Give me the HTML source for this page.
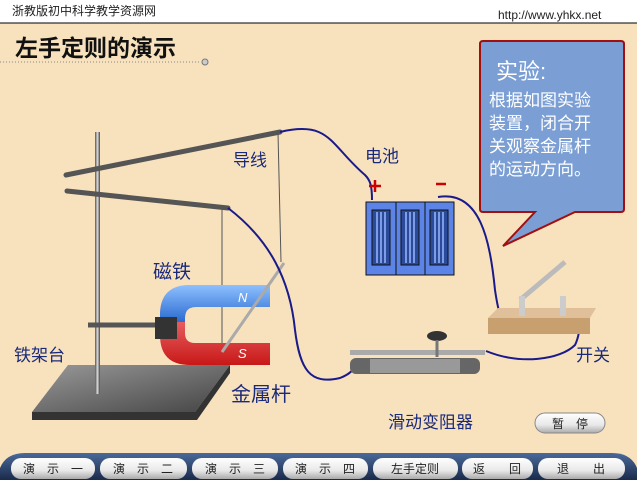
<!DOCTYPE html>
<html><head><meta charset="utf-8"><style>
body{margin:0;width:637px;height:480px;overflow:hidden;background:#F8E2BE;}
svg{display:block}
text{font-family:"Liberation Sans","Noto Sans CJK SC",sans-serif}
</style></head><body>
<svg width="637" height="480" viewBox="0 0 637 480">
<defs>
<linearGradient id="rod" x1="0" y1="0" x2="1" y2="0"><stop offset="0" stop-color="#555"/><stop offset=".5" stop-color="#ddd"/><stop offset="1" stop-color="#444"/></linearGradient>
<linearGradient id="base" x1="0" y1="0" x2="1" y2="1"><stop offset="0" stop-color="#999"/><stop offset="1" stop-color="#444"/></linearGradient>
<linearGradient id="btn" x1="0" y1="0" x2="0" y2="1"><stop offset="0" stop-color="#fff"/><stop offset=".6" stop-color="#e8e8e8"/><stop offset="1" stop-color="#aaa"/></linearGradient>
<linearGradient id="bar" x1="0" y1="0" x2="0" y2="1"><stop offset="0" stop-color="#4a6a9a"/><stop offset="1" stop-color="#1a2a4a"/></linearGradient>
<linearGradient id="blu" x1="0" y1="0" x2="0" y2="1"><stop offset="0" stop-color="#8ec0ff"/><stop offset="1" stop-color="#2a6ad0"/></linearGradient>
<linearGradient id="red" x1="0" y1="0" x2="0" y2="1"><stop offset="0" stop-color="#ff9a9a"/><stop offset="1" stop-color="#c81818"/></linearGradient>
</defs>
<rect x="0" y="0" width="637" height="23" fill="#fff"/>
<line x1="0" y1="23" x2="637" y2="23" stroke="#000" stroke-width="1"/>
<text x="12" y="15" font-size="12" fill="#222">浙教版初中科学教学资源网</text>
<text x="498" y="19" font-size="12" fill="#222">http://www.yhkx.net</text>
<text x="15" y="56" font-size="23" fill="#111" font-weight="bold">左手定则的演示</text>
<line x1="0" y1="62" x2="200" y2="62" stroke="#888" stroke-dasharray="1,2"/>
<circle cx="205" cy="62" r="3" fill="#ccc" stroke="#777"/>

<path d="M483,41 H621 Q624,41 624,44 V209 Q624,212 621,212 H575 L503,246 L535,212 H483 Q480,212 480,209 V44 Q480,41 483,41 Z" fill="#7B9FD4" stroke="#A01010" stroke-width="2"/>
<text x="496" y="79" font-size="22" fill="#fff">实验:</text>
<g font-size="17" fill="#fff"><text x="489" y="106">根据如图实验</text><text x="489" y="129">装置，闭合开</text><text x="489" y="152">关观察金属杆</text><text x="489" y="175">的运动方向。</text></g>

<polygon points="68,365 230,365 195,412 32,412" fill="url(#base)"/>
<polygon points="32,412 195,412 230,365 230,373 197,420 32,420" fill="#333"/>
<rect x="95" y="132" width="5" height="262" fill="url(#rod)"/>
<line x1="66" y1="175" x2="280" y2="132" stroke="#555" stroke-width="5" stroke-linecap="round"/>
<line x1="67" y1="191" x2="228" y2="208" stroke="#555" stroke-width="5" stroke-linecap="round"/>
<line x1="88" y1="325" x2="155" y2="325" stroke="#555" stroke-width="5"/>
<line x1="278" y1="133" x2="281" y2="262" stroke="#555" stroke-width="1"/>
<line x1="222" y1="209" x2="222" y2="352" stroke="#555" stroke-width="1"/>
<path d="M270,285 H190 Q160,285 160,315 V335 Q160,365 190,365 H270 V343 H195 Q185,343 185,333 V318 Q185,307 196,307 H270 Z" fill="url(#red)"/>
<path d="M270,285 H190 Q160,285 160,315 V322 H185 V318 Q185,307 196,307 H270 Z" fill="url(#blu)"/>
<rect x="155" y="317" width="22" height="22" fill="#333"/>
<text x="238" y="302" font-size="13" font-style="italic" fill="#fff" font-family="Liberation Serif">N</text>
<text x="238" y="358" font-size="13" font-style="italic" fill="#fff" font-family="Liberation Serif">S</text>
<line x1="284" y1="263" x2="222" y2="352" stroke="#aaa" stroke-width="3"/>
<path d="M280,132 C330,120 330,145 365,175 C370,180 372,185 372,200" fill="none" stroke="#1a1a8a" stroke-width="2"/>
<path d="M228,208 C270,240 290,280 295,330 C300,370 310,385 340,378 C350,374 355,370 356,360" fill="none" stroke="#1a1a8a" stroke-width="2"/>
<path d="M438,197 C480,190 490,240 495,290 C498,310 500,318 505,318" fill="none" stroke="#1a1a8a" stroke-width="2"/>
<path d="M486,351 C520,365 560,360 575,345 C580,335 580,322 580,318" fill="none" stroke="#1a1a8a" stroke-width="2"/>
<rect x="366" y="202" width="88" height="73" fill="#5b84e6" stroke="#111"/>
<line x1="396" y1="202" x2="396" y2="275" stroke="#111"/><line x1="425" y1="202" x2="425" y2="275" stroke="#111"/>
<g fill="#2a4a9a" stroke="#111"><rect x="372" y="210" width="18" height="55"/><rect x="401" y="210" width="18" height="55"/><rect x="430" y="210" width="18" height="55"/></g>
<g stroke="#9ab8ff" stroke-width="1.5"><line x1="377" y1="212" x2="377" y2="263"/><line x1="381" y1="212" x2="381" y2="263"/><line x1="385" y1="212" x2="385" y2="263"/><line x1="406" y1="212" x2="406" y2="263"/><line x1="410" y1="212" x2="410" y2="263"/><line x1="414" y1="212" x2="414" y2="263"/><line x1="435" y1="212" x2="435" y2="263"/><line x1="439" y1="212" x2="439" y2="263"/><line x1="443" y1="212" x2="443" y2="263"/></g>
<g stroke="#c00" stroke-width="2.5"><line x1="369" y1="186" x2="381" y2="186"/><line x1="375" y1="180" x2="375" y2="192"/><line x1="436" y1="184" x2="446" y2="184"/></g>
<polygon points="488,318 590,318 596,308 498,308" fill="#e0c09a"/>
<rect x="488" y="318" width="102" height="16" fill="#c8a070"/>
<line x1="520" y1="300" x2="565" y2="262" stroke="#bbb" stroke-width="5"/>
<rect x="519" y="296" width="6" height="20" fill="#ccc"/><rect x="560" y="296" width="6" height="20" fill="#ccc"/>
<rect x="350" y="350" width="135" height="5" fill="#aaa"/>
<rect x="350" y="358" width="130" height="16" rx="6" fill="#666"/>
<rect x="370" y="359" width="90" height="14" fill="#999"/>
<ellipse cx="437" cy="336" rx="10" ry="5" fill="#333"/>
<line x1="437" y1="340" x2="437" y2="357" stroke="#777" stroke-width="3"/>
<g fill="#1a2a7a" font-size="17">
<text x="233" y="166">导线</text>
<text x="365" y="162">电池</text>
<text x="153" y="278" font-size="19">磁铁</text>
<text x="14" y="361">铁架台</text>
<text x="231" y="401" font-size="20">金属杆</text>
<text x="388" y="428">滑动变阻器</text>
<text x="576" y="361">开关</text>
</g>
<rect x="535" y="413" width="70" height="20" rx="10" fill="url(#btn)" stroke="#888"/>
<text x="570" y="428" font-size="12" text-anchor="middle" fill="#222">暂　停</text>
<path d="M0,480 V468 Q6,453 25,453 H612 Q631,453 637,468 V480 Z" fill="url(#bar)"/>
<g font-size="12" fill="#222" text-anchor="middle">
<rect x="11" y="458" width="84" height="21" rx="10" fill="url(#btn)"/><text x="53" y="473">演　示　一</text>
<rect x="100" y="458" width="87" height="21" rx="10" fill="url(#btn)"/><text x="143" y="473">演　示　二</text>
<rect x="192" y="458" width="86" height="21" rx="10" fill="url(#btn)"/><text x="235" y="473">演　示　三</text>
<rect x="283" y="458" width="85" height="21" rx="10" fill="url(#btn)"/><text x="325" y="473">演　示　四</text>
<rect x="373" y="458" width="85" height="21" rx="10" fill="url(#btn)"/><text x="415" y="473">左手定则</text>
<rect x="462" y="458" width="71" height="21" rx="10" fill="url(#btn)"/><text x="497" y="473">返　　回</text>
<rect x="538" y="458" width="87" height="21" rx="10" fill="url(#btn)"/><text x="581" y="473">退　　出</text>
</g>
</svg>
</body></html>
